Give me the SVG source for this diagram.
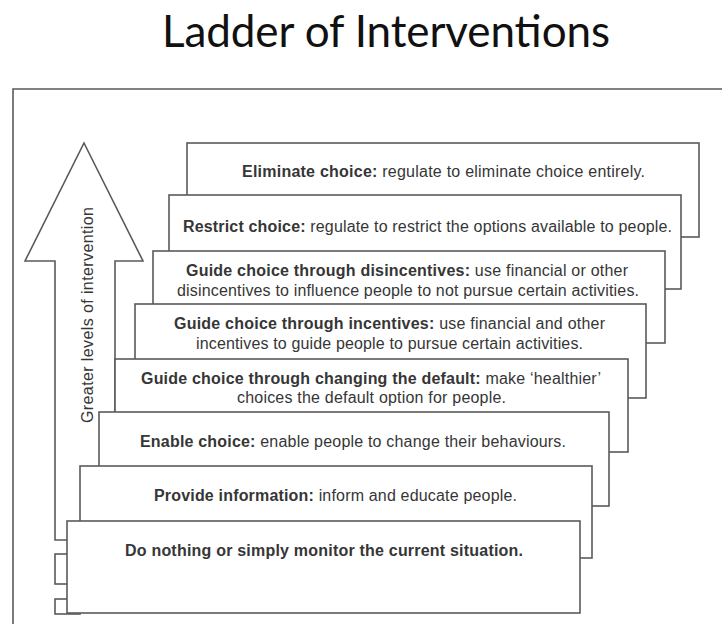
<svg xmlns="http://www.w3.org/2000/svg" width="722" height="624" viewBox="0 0 722 624">
<style>
.ln{fill:none;stroke:#5a5a5a;stroke-width:1.6}
.bx{fill:#ffffff;stroke:#5a5a5a;stroke-width:1.6}
.t{font-family:"Liberation Sans",Arial,sans-serif;font-size:16px;fill:#363636;text-anchor:middle}
.b{font-weight:bold}
.title{font-family:Lato,"Open Sans",sans-serif;font-size:44px;fill:#111111;text-anchor:middle}
</style>
<rect x="0" y="0" width="722" height="624" fill="#ffffff"/>
<text class="title" x="386" y="47" textLength="448">Ladder of Interventions</text>
<g id="frame">
<path class="ln" d="M13,624 V89 H722"/>
</g>
<g id="arrow">
<rect class="ln" x="55" y="554" width="25" height="30"/>
<rect class="ln" x="55" y="599" width="25" height="15"/>
<polygon class="bx" points="84,143 143,261 115,261 115,540 55,540 55,261 25,261"/>
<text class="t" transform="translate(93,315) rotate(-90)" x="0" y="0" textLength="216" style="font-weight:normal">Greater levels of intervention</text>
</g>
<g id="box-eliminate">
<rect class="bx" x="187" y="143" width="512" height="94"/>
<text class="t" x="443.5" y="177" textLength="403"><tspan class="b">Eliminate choice:</tspan> regulate to eliminate choice entirely.</text>
</g>
<g id="box-restrict">
<rect class="bx" x="169" y="195" width="512" height="94"/>
<text class="t" x="427.5" y="232" textLength="489"><tspan class="b">Restrict choice:</tspan> regulate to restrict the options available to people.</text>
</g>
<g id="box-disincentives">
<rect class="bx" x="153" y="251" width="512" height="92"/>
<text class="t" x="407" y="276" textLength="442"><tspan class="b">Guide choice through disincentives:</tspan> use financial or other</text>
<text class="t" x="408" y="296" textLength="462">disincentives to influence people to not pursue certain activities.</text>
</g>
<g id="box-incentives">
<rect class="bx" x="135" y="304" width="511" height="94"/>
<text class="t" x="389.5" y="329" textLength="431"><tspan class="b">Guide choice through incentives:</tspan> use financial and other</text>
<text class="t" x="389.5" y="349" textLength="387">incentives to guide people to pursue certain activities.</text>
</g>
<g id="box-default">
<rect class="bx" x="115" y="359" width="513" height="93"/>
<text class="t" x="371" y="384" textLength="460"><tspan class="b">Guide choice through changing the default:</tspan> make ‘healthier’</text>
<text class="t" x="371.5" y="403" textLength="269">choices the default option for people.</text>
</g>
<g id="box-enable">
<rect class="bx" x="99" y="412" width="510" height="94"/>
<text class="t" x="353" y="447" textLength="426"><tspan class="b">Enable choice:</tspan> enable people to change their behaviours.</text>
</g>
<g id="box-provide">
<rect class="bx" x="80" y="466" width="512" height="92"/>
<text class="t" x="335.5" y="501" textLength="363"><tspan class="b">Provide information:</tspan> inform and educate people.</text>
</g>
<g id="box-nothing">
<rect class="bx" x="67" y="521" width="513" height="92"/>
<text class="t b" x="324" y="556" textLength="398">Do nothing or simply monitor the current situation.</text>
</g>
</svg>
